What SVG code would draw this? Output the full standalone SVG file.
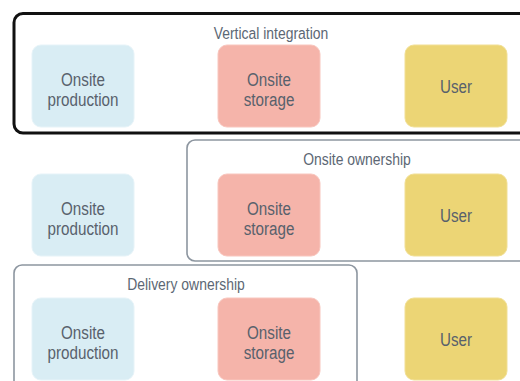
<svg xmlns="http://www.w3.org/2000/svg" width="520" height="381" viewBox="0 0 520 381">
  <style>
    .frame { fill: none; stroke: #8d96a0; stroke-width: 1.6; }
    .frame-main { fill: none; stroke: #111; stroke-width: 3; }
    .prod { fill: #d9edf4; stroke: #e6f3f8; stroke-width: 1; }
    .store { fill: #f5b4aa; stroke: #f8c6be; stroke-width: 1; }
    .user { fill: #ecd575; stroke: #f1df95; stroke-width: 1; }
    text { font-family: "Liberation Sans", Arial, sans-serif; fill: #58616c; text-anchor: middle; }
    .lbl { font-size: 19px; }
    .ttl { font-size: 17px; fill: #5c6774; }
  </style>
  <rect width="520" height="381" fill="#fff"/>

  <!-- grouping frames -->
  <g id="frames">
    <g id="vertical-integration">
      <rect class="frame-main" x="14" y="13.5" width="516" height="119.5" rx="9"/>
      <text class="ttl" transform="translate(271 38.5) scale(0.82 1)">Vertical integration</text>
    </g>
    <g id="onsite-ownership">
      <rect class="frame" x="187" y="140" width="343" height="121" rx="8"/>
      <text class="ttl" transform="translate(357 164.5) scale(0.82 1)">Onsite ownership</text>
    </g>
    <g id="delivery-ownership">
      <rect class="frame" x="14" y="265" width="343" height="130" rx="8"/>
      <text class="ttl" transform="translate(186 289.5) scale(0.82 1)">Delivery ownership</text>
    </g>
  </g>

  <!-- row 1 -->
  <g id="prod-1">
    <rect class="prod" x="32" y="45" width="102" height="82" rx="9"/>
    <text class="lbl" transform="translate(83 85.5) scale(0.8 1)">Onsite</text>
    <text class="lbl" transform="translate(83 105.5) scale(0.8 1)">production</text>
  </g>
  <g id="storage-1">
    <rect class="store" x="218" y="45" width="102" height="82" rx="9"/>
    <text class="lbl" transform="translate(269 85.5) scale(0.8 1)">Onsite</text>
    <text class="lbl" transform="translate(269 105.5) scale(0.8 1)">storage</text>
  </g>
  <g id="user-1">
    <rect class="user" x="405" y="45" width="102" height="82" rx="9"/>
    <text class="lbl" transform="translate(456 92.5) scale(0.8 1)">User</text>
  </g>

  <!-- row 2 -->
  <g id="prod-2">
    <rect class="prod" x="32" y="174" width="102" height="82" rx="9"/>
    <text class="lbl" transform="translate(83 214.5) scale(0.8 1)">Onsite</text>
    <text class="lbl" transform="translate(83 234.5) scale(0.8 1)">production</text>
  </g>
  <g id="storage-2">
    <rect class="store" x="218" y="174" width="102" height="82" rx="9"/>
    <text class="lbl" transform="translate(269 214.5) scale(0.8 1)">Onsite</text>
    <text class="lbl" transform="translate(269 234.5) scale(0.8 1)">storage</text>
  </g>
  <g id="user-2">
    <rect class="user" x="405" y="174" width="102" height="82" rx="9"/>
    <text class="lbl" transform="translate(456 221.5) scale(0.8 1)">User</text>
  </g>

  <!-- row 3 -->
  <g id="prod-3">
    <rect class="prod" x="32" y="298" width="102" height="82" rx="9"/>
    <text class="lbl" transform="translate(83 338.5) scale(0.8 1)">Onsite</text>
    <text class="lbl" transform="translate(83 358.5) scale(0.8 1)">production</text>
  </g>
  <g id="storage-3">
    <rect class="store" x="218" y="298" width="102" height="82" rx="9"/>
    <text class="lbl" transform="translate(269 338.5) scale(0.8 1)">Onsite</text>
    <text class="lbl" transform="translate(269 358.5) scale(0.8 1)">storage</text>
  </g>
  <g id="user-3">
    <rect class="user" x="405" y="298" width="102" height="82" rx="9"/>
    <text class="lbl" transform="translate(456 345.5) scale(0.8 1)">User</text>
  </g>

  <g id="connectors"/>
</svg>
